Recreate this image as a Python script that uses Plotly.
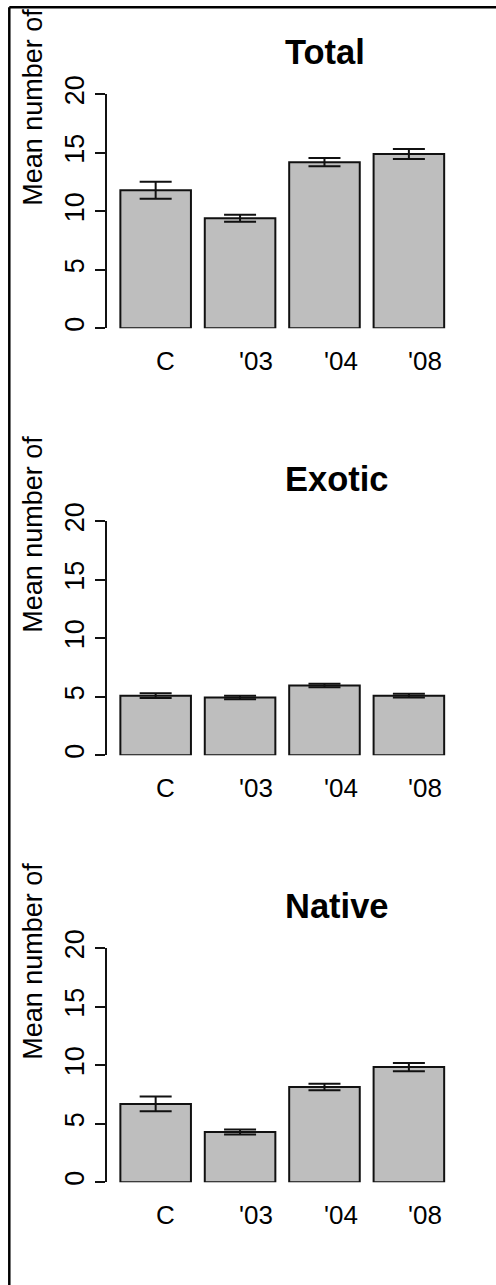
import plotly.graph_objects as go

# Site categories and per-group means with standard errors
categories = ["C", "'03", "'04", "'08"]
tick_text = ["C\u00a0\u00a0", "'03", "'04", "'08"]
groups = ["Total", "Exotic", "Native"]

total_mean = [11.8, 9.4, 14.2, 14.9]
total_se = [0.72, 0.30, 0.35, 0.42]
exotic_mean = [5.1, 4.95, 5.97, 5.1]
exotic_se = [0.20, 0.15, 0.15, 0.15]
native_mean = [6.7, 4.3, 8.15, 9.85]
native_se = [0.63, 0.22, 0.28, 0.35]

y_ticks = [0, 5, 10, 15, 20]

means = [total_mean, exotic_mean, native_mean]
ses = [total_se, exotic_se, native_se]

W, H = 496, 1285
FONT = "Liberation Sans, Arial, sans-serif"
BAR_GAP = 0.164

# pixel layout of each panel (top of the 20 tick and bottom of the 0 tick)
panel_top = [94.3, 521.3, 948.3]
panel_h = 234.0
x_left, x_right = 106.7, 457.0


def py(p):
    return 1 - p / H


fig = go.Figure()
annotations = []

for k, (name, m, s) in enumerate(zip(groups, means, ses)):
    xa = "x" if k == 0 else f"x{k + 1}"
    ya = "y" if k == 0 else f"y{k + 1}"
    fig.add_trace(go.Bar(
        x=categories, y=m, xaxis=xa, yaxis=ya,
        marker=dict(color="#BEBEBE", line=dict(color="#111111", width=2)),
        error_y=dict(type="data", array=s, visible=True,
                     color="#111111", thickness=2, width=16),
        showlegend=False,
    ))
    top = panel_top[k]
    bottom = top + panel_h
    lay_x = "xaxis" if k == 0 else f"xaxis{k + 1}"
    lay_y = "yaxis" if k == 0 else f"yaxis{k + 1}"
    fig.layout[lay_x] = dict(
        domain=[x_left / W, x_right / W], anchor=ya,
        range=[-0.58, 3.57], type="category", automargin=False,
        showline=False, showgrid=False, zeroline=False,
        ticks="", showticklabels=False,
    )
    fig.layout[lay_y] = dict(
        domain=[py(bottom), py(top)], anchor=xa, automargin=False,
        range=[0, 20], tickvals=y_ticks,
        showline=True, linecolor="#111111", linewidth=2,
        ticks="outside", ticklen=10, tickwidth=2, tickcolor="#111111",
        tickangle=-90, ticklabelstandoff=0,
        tickfont=dict(family=FONT, size=27, color="black"),
        showgrid=False, zeroline=False,
    )
    # category labels under the bars
    for i, t in enumerate(tick_text):
        annotations.append(dict(
            x=i + (1 - BAR_GAP) / 2, y=0, xref=xa, yref=ya,
            text=t, showarrow=False, xanchor="right", yanchor="middle",
            yshift=-33, font=dict(family=FONT, size=26, color="black"),
        ))
    # panel title
    annotations.append(dict(
        x=283 / W, y=py(top - 42), xref="paper", yref="paper",
        text=f"<b>{name}</b>", showarrow=False,
        xanchor="left", yanchor="middle",
        font=dict(family=FONT, size=34.5, color="black"),
    ))
    # y-axis label
    annotations.append(dict(
        x=33 / W, y=py(top + 114), xref="paper", yref="paper",
        text="Mean number of", showarrow=False, textangle=-90,
        xanchor="center", yanchor="bottom",
        font=dict(family=FONT, size=27, color="black"),
    ))

# frame lines along the top and left edges
shapes = [
    dict(type="line", xref="paper", yref="paper",
         x0=9.3 / W, x1=1.05, y0=py(7.3), y1=py(7.3),
         line=dict(color="black", width=2.5)),
    dict(type="line", xref="paper", yref="paper",
         x0=9.3 / W, x1=9.3 / W, y0=py(7.3), y1=-0.05,
         line=dict(color="black", width=2.5)),
]

fig.update_layout(
    template="none",
    width=W, height=H, autosize=False,
    margin=dict(l=0, r=0, t=0, b=0, pad=0),
    paper_bgcolor="white", plot_bgcolor="white",
    bargap=BAR_GAP,
    annotations=annotations,
    shapes=shapes,
    font=dict(family=FONT),
)

fig.write_html("out.html")
